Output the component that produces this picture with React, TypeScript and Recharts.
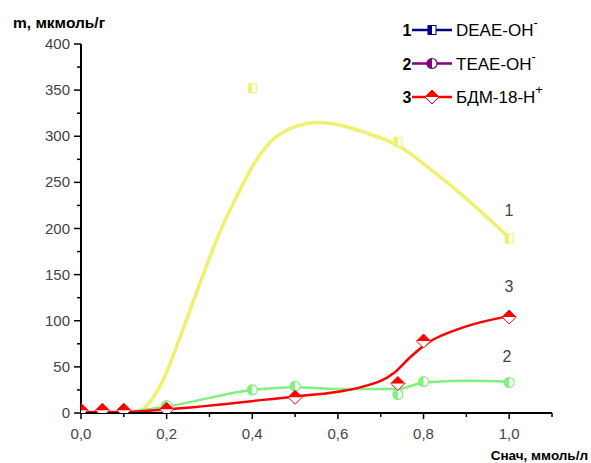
import React from 'react';
import { ComposedChart, Line, Scatter, XAxis, YAxis } from 'recharts';

// measured points
const pts1 = [
  { x: 0.4, y: 352 },
  { x: 0.74, y: 294 },
  { x: 1.0, y: 189 },
];
const pts2 = [
  { x: 0.2, y: 8 },
  { x: 0.4, y: 25 },
  { x: 0.5, y: 29 },
  { x: 0.74, y: 20 },
  { x: 0.8, y: 34 },
  { x: 1.0, y: 33 },
];
const pts3 = [
  { x: 0.0, y: 3 },
  { x: 0.05, y: 3 },
  { x: 0.1, y: 3 },
  { x: 0.2, y: 4 },
  { x: 0.5, y: 17 },
  { x: 0.74, y: 32 },
  { x: 0.8, y: 78 },
  { x: 1.0, y: 104 },
];

// fitted curves
const curve1 = [
  { x: 0.0, y: 0 }, { x: 0.1, y: 0 }, { x: 0.13, y: 0 }, { x: 0.145, y: 4 },
  { x: 0.192, y: 36 }, { x: 0.232, y: 83 }, { x: 0.271, y: 132 }, { x: 0.318, y: 189 },
  { x: 0.365, y: 236 }, { x: 0.404, y: 270 }, { x: 0.443, y: 294 }, { x: 0.497, y: 310 },
  { x: 0.556, y: 315 }, { x: 0.67, y: 303 }, { x: 0.74, y: 290 }, { x: 0.825, y: 261 },
  { x: 0.903, y: 231 }, { x: 1.0, y: 190 },
];
const curve2 = [
  { x: 0.0, y: 0 }, { x: 0.1, y: 1 }, { x: 0.2, y: 7 }, { x: 0.4, y: 25 },
  { x: 0.5, y: 28 }, { x: 0.6, y: 26 }, { x: 0.74, y: 26 }, { x: 0.8, y: 33 },
  { x: 0.9, y: 35 }, { x: 1.0, y: 34 },
];
const curve3 = [
  { x: 0.0, y: 1 }, { x: 0.1, y: 1 }, { x: 0.2, y: 4 }, { x: 0.5, y: 18 },
  { x: 0.6, y: 23 }, { x: 0.654, y: 28 }, { x: 0.73, y: 43 }, { x: 0.77, y: 61 },
  { x: 0.81, y: 76 }, { x: 0.888, y: 92 }, { x: 1.0, y: 105 },
];

const xTicks = [0, 0.1, 0.2, 0.3, 0.4, 0.5, 0.6, 0.7, 0.8, 0.9, 1.0, 1.1];
const yTicks = [0, 25, 50, 75, 100, 125, 150, 175, 200, 225, 250, 275, 300, 325, 350, 375, 400];

const legendItems = [
  { num: '1', name: 'DEAE-OH', sup: '-', color: '#000080', kind: 'square' },
  { num: '2', name: 'TEAE-OH', sup: '-', color: '#800080', kind: 'circle' },
  { num: '3', name: 'БДМ-18-Н', sup: '+', color: '#ff0000', kind: 'diamond' },
];

const curveLabels = [
  { text: '1', x: 509, y: 216 },
  { text: '3', x: 509, y: 292 },
  { text: '2', x: 507, y: 362 },
];

const YELLOW = '#f0f070';
const GREEN = '#80f080';
const RED = '#ff0000';
const FONT = "Arial, 'Liberation Sans', sans-serif";

const Square = (cx: number, cy: number, color: string) => (
  <g>
    <rect x={cx - 4} y={cy - 4.5} width={8} height={9} fill="#fff" stroke={color} strokeWidth={1} />
    <rect x={cx - 4} y={cy - 4.5} width={4} height={9} fill={color} />
  </g>
);

const Circle = (cx: number, cy: number, color: string) => (
  <g>
    <circle cx={cx} cy={cy} r={5} fill="#fff" stroke={color} strokeWidth={1.2} />
    <path d={`M${cx},${cy - 5} A5,5 0 0 0 ${cx},${cy + 5} Z`} fill={color} />
  </g>
);

const Diamond = (cx: number, cy: number, color: string) => (
  <g>
    <path d={`M${cx - 7},${cy} L${cx},${cy - 7} L${cx + 7},${cy} L${cx},${cy + 7} Z`} fill="#fff" stroke={color} strokeWidth={1} />
    <path d={`M${cx - 7},${cy} L${cx},${cy - 7} L${cx + 7},${cy} Z`} fill={color} />
  </g>
);

const XTick = (props: any) => {
  const { x, y, payload } = props;
  const v = payload.value;
  const major = Math.round(v * 10) % 2 === 0 && v <= 1.0001;
  return (
    <g>
      <line x1={x} x2={x} y1={y} y2={y + (major ? 6 : 4)} stroke="#000" strokeWidth={1.5} />
      {major && (
        <text x={x} y={y + 26} textAnchor="middle" fontSize={15} fill="#444" fontFamily={FONT}>
          {v.toFixed(1).replace('.', ',')}
        </text>
      )}
    </g>
  );
};

const YTick = (props: any) => {
  const { x, y, payload } = props;
  const v = payload.value;
  const major = v % 50 === 0;
  return (
    <g>
      <line x1={x} x2={x - (major ? 7 : 4)} y1={y} y2={y} stroke="#000" strokeWidth={1.5} />
      {major && (
        <text x={x - 11} y={y + 5} textAnchor="end" fontSize={15} fill="#444" fontFamily={FONT}>
          {v}
        </text>
      )}
    </g>
  );
};

const App: React.FC = () => {
  return (
    <div style={{ position: 'absolute', left: 0, top: 0, width: 591, height: 463, background: '#fff' }}>
      <ComposedChart width={591} height={463} margin={{ top: 44, right: 39, bottom: 0, left: 0 }}>
        <XAxis
          type="number"
          dataKey="x"
          domain={[0, 1.1]}
          ticks={xTicks}
          interval={0}
          height={50}
          tickSize={0}
          tickMargin={0}
          tick={XTick}
          axisLine={{ stroke: '#000', strokeWidth: 2 }}
          allowDataOverflow
        />
        <YAxis
          type="number"
          dataKey="y"
          domain={[0, 400]}
          ticks={yTicks}
          interval={0}
          width={81}
          tickSize={0}
          tickMargin={0}
          tick={YTick}
          axisLine={{ stroke: '#000', strokeWidth: 2 }}
          allowDataOverflow
        />
        <Line data={curve1} dataKey="y" type="monotone" stroke={YELLOW} strokeWidth={3.5} dot={false} isAnimationActive={false} />
        <Line data={curve2} dataKey="y" type="monotone" stroke={GREEN} strokeWidth={2.5} dot={false} isAnimationActive={false} />
        <Line data={curve3} dataKey="y" type="monotone" stroke={RED} strokeWidth={2.5} dot={false} isAnimationActive={false} />
        <Scatter data={pts1} dataKey="y" isAnimationActive={false} shape={(p: any) => Square(p.cx, p.cy, YELLOW)} />
        <Scatter data={pts2} dataKey="y" isAnimationActive={false} shape={(p: any) => Circle(p.cx, p.cy, GREEN)} />
        <Scatter data={pts3} dataKey="y" isAnimationActive={false} shape={(p: any) => Diamond(p.cx, p.cy, RED)} />
      </ComposedChart>
      <svg width={591} height={463} style={{ position: 'absolute', left: 0, top: 0, pointerEvents: 'none' }}>
        <text x={13} y={28} fontSize={15.5} fontWeight="bold" fontFamily={FONT} fill="#000">m, мкмоль/г</text>
        <text x={588} y={460} textAnchor="end" fontSize={13.5} fontWeight="bold" fontFamily={FONT} fill="#000">Cнач, ммоль/л</text>
        {curveLabels.map((c) => (
          <text key={c.text} x={c.x} y={c.y} textAnchor="middle" fontSize={16} fill="#444" fontFamily={FONT}>{c.text}</text>
        ))}
        {legendItems.map((it, i) => {
          const cy = 30 + i * 33.5;
          return (
            <g key={it.num}>
              <text x={407} y={cy + 6} textAnchor="middle" fontSize={16} fontWeight="bold" fontFamily={FONT} fill="#000">{it.num}</text>
              <line x1={412} x2={452} y1={cy} y2={cy} stroke={it.color} strokeWidth={2.5} />
              {it.kind === 'square' && Square(432, cy, it.color)}
              {it.kind === 'circle' && Circle(432, cy, it.color)}
              {it.kind === 'diamond' && Diamond(432, cy, it.color)}
              <text x={456} y={cy + 6} fontSize={17} fontFamily={FONT} fill="#000">
                {it.name}
                <tspan dy={-9} fontSize={13}>{it.sup}</tspan>
              </text>
            </g>
          );
        })}
      </svg>
    </div>
  );
};

export default App;
